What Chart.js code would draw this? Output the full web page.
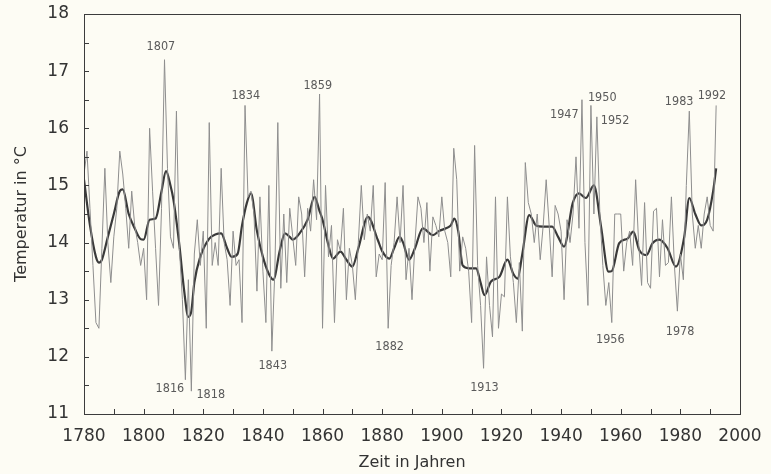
<!DOCTYPE html>
<html lang="de">
<head>
<meta charset="UTF-8">
<title>Temperatur</title>
<script src="https://cdn.jsdelivr.net/npm/chart.js"></script>
<style>
  body { margin: 0; background: #fdfcf4; }
  #box { width: 771px; height: 474px; }
</style>
</head>
<body>
<div id="box"><canvas id="grafico"></canvas></div>
<script>
// Jahresmittel ab 1780
var startJahr = 1780;
var temperaturen = [
  15.2, 15.6, 14.6, 13.6, 12.6, 12.5, 13.9, 15.3, 14.0, 13.3,
  14.1, 14.6, 15.6, 15.2, 14.6, 13.9, 14.9, 14.3, 14.0, 13.6,
  13.9, 13.0, 16.0, 14.9, 13.9, 12.9, 14.6, 17.2, 15.3, 14.1,
  13.9, 16.3, 13.9, 13.0, 11.6, 13.35, 11.4, 13.8, 14.4, 13.6,
  14.2, 12.5, 16.1, 13.6, 14.0, 13.6, 15.3, 14.0, 13.7, 12.9,
  14.2, 13.6, 13.7, 12.6, 16.4, 14.8, 14.9, 14.5, 13.15, 14.8,
  13.5, 12.6, 15.0, 12.1, 13.5, 16.1, 13.2, 14.5, 13.3, 14.6,
  14.1, 13.6, 14.8, 14.5, 13.4, 14.6, 14.2, 15.1, 14.4, 16.6,
  12.5, 15.0, 13.75, 14.3, 12.6, 14.05, 13.85, 14.6, 13.0, 13.9,
  13.6, 13.0, 14.0, 15.0, 14.05, 14.5, 14.2, 15.0, 13.4, 13.8,
  13.7, 15.05, 12.5, 13.6, 14.0, 14.8, 14.0, 15.0, 13.35, 13.9,
  13.0, 14.0, 14.8, 14.6, 14.0, 14.7, 13.5, 14.45, 14.3, 14.1,
  14.8, 14.2, 14.0, 13.4, 15.65, 15.1, 13.5, 14.1, 13.9, 13.5,
  12.6, 15.7, 13.6, 12.9, 11.8, 13.75, 12.9, 12.35, 14.8, 12.5,
  13.1, 13.05, 14.8, 13.75, 13.3, 12.6, 13.65, 12.45, 15.4, 14.7,
  14.5, 14.0, 14.5, 13.7, 14.3, 15.1, 14.3, 13.4, 14.65, 14.5,
  14.2, 13.0, 14.4, 14.0, 14.5, 15.5, 14.25, 16.5, 14.0, 12.9,
  16.4, 14.5, 16.2, 14.5, 13.6, 12.9, 13.3, 12.6, 14.5, 14.5,
  14.5, 13.5, 14.0, 14.2, 13.6, 15.1, 14.0, 13.25, 14.7, 13.3,
  13.2, 14.55, 14.6, 13.4, 14.4, 13.6, 13.65, 14.8, 13.6, 12.8,
  13.8, 13.35, 15.0, 16.3, 14.5, 13.9, 14.3, 13.9, 14.5, 14.8,
  14.3, 14.2, 16.4
];

// geglaettete Kurve
var glattJahre = [
  1780, 1782, 1784, 1785, 1786, 1788, 1790, 1792, 1793, 1795, 1797, 1799, 1800,
  1802, 1804, 1806, 1807.5, 1809, 1810, 1812, 1813.5, 1815, 1816, 1817, 1819,
  1822, 1824, 1826, 1828, 1829.5, 1831.5, 1833, 1834.6, 1836, 1838, 1840, 1842,
  1843.5, 1845.7, 1847.4, 1849, 1850, 1852.3, 1855, 1857.3, 1859, 1860, 1862,
  1863.5, 1866, 1868, 1870, 1872, 1875.2, 1878.5, 1880, 1882.4, 1884, 1885.8,
  1887, 1889, 1891, 1893.6, 1897, 1899, 1901.4, 1903, 1904.2, 1905.5, 1907,
  1909, 1911.5, 1913, 1914.3, 1916.5, 1919.3, 1922, 1924, 1925.4, 1927, 1929.3,
  1931.6, 1934, 1937, 1939, 1941, 1943.9, 1946, 1948.3, 1951, 1953.4, 1955.9,
  1957, 1959.5, 1962.3, 1964.2, 1966.2, 1968.6, 1970.7, 1972.9, 1975.7, 1978.5,
  1981.3, 1983, 1985, 1987, 1989, 1991, 1992
];
var glattWerte = [
  15.1, 14.3, 13.75, 13.65, 13.7, 14.1, 14.5, 14.9, 14.93, 14.5, 14.25, 14.06, 14.05,
  14.4, 14.42, 14.9, 15.25, 15.0, 14.75, 13.95, 13.2, 12.7, 12.8, 13.3, 13.75,
  14.07, 14.14, 14.16, 13.9, 13.75, 13.8, 14.3, 14.69, 14.86, 14.2, 13.75, 13.45,
  13.35, 13.87, 14.16, 14.1, 14.05, 14.16, 14.4, 14.8, 14.55, 14.4, 13.95,
  13.72, 13.84, 13.7, 13.58, 13.9, 14.45, 14.05, 13.85, 13.72, 13.9, 14.1,
  14.0, 13.7, 13.9, 14.25, 14.13, 14.2, 14.25, 14.3, 14.42, 14.2, 13.6,
  13.55, 13.55, 13.3, 13.08, 13.32, 13.4, 13.7, 13.45, 13.37, 13.8, 14.48,
  14.3, 14.28, 14.28, 14.1, 13.93, 14.69, 14.86, 14.78, 15.0, 14.28, 13.49,
  13.5, 13.99, 14.07, 14.19, 13.87, 13.78, 13.99, 14.05, 13.9, 13.58,
  14.1, 14.78, 14.5, 14.3, 14.4, 14.9, 15.3
];

var jahresMarken = ['1807', '1816', '1818', '1834', '1843', '1859', '1882', '1913',
  '1947', '1950', '1952', '1956', '1978', '1983', '1992'];

// Lage der Jahresmarken in Achsenwerten
var markenLage = [
  [1805.8, 17.42], [1808.8, 11.44], [1822.5, 11.33], [1834.25, 16.57], [1843.3, 11.84],
  [1858.4, 16.74], [1882.5, 12.17], [1914.3, 11.46], [1941.1, 16.23], [1953.8, 16.53],
  [1958.1, 16.13], [1956.5, 12.30], [1979.9, 12.44], [1979.6, 16.46], [1990.6, 16.57]
];

var jahresPunkte = temperaturen.map(function (t, i) { return { x: startJahr + i, y: t }; });
var glattPunkte = glattJahre.map(function (j, i) { return { x: j, y: glattWerte[i] }; });

var rahmen = {
  id: 'rahmen',
  afterDraw: function (chart) {
    var ctx = chart.ctx, a = chart.chartArea;
    var sx = chart.scales.x, sy = chart.scales.y;
    ctx.save();
    ctx.strokeStyle = '#3c3c3c';
    ctx.lineWidth = 1;
    ctx.strokeRect(Math.round(a.left) + 0.5, Math.round(a.top) + 0.5,
      Math.round(a.right - a.left), Math.round(a.bottom - a.top));
    ctx.beginPath();
    sx.ticks.forEach(function (t) {
      var px = Math.round(sx.getPixelForValue(t.value)) + 0.5;
      ctx.moveTo(px, a.bottom);
      ctx.lineTo(px, a.bottom - 5);
    });
    sy.ticks.forEach(function (t) {
      var py = Math.round(sy.getPixelForValue(t.value)) + 0.5;
      ctx.moveTo(a.left, py);
      ctx.lineTo(a.left + 5, py);
    });
    ctx.stroke();

    ctx.fillStyle = '#5a5a5a';
    ctx.font = '12.5px "DejaVu Sans Condensed", "Liberation Sans Narrow", sans-serif';
    ctx.textAlign = 'center';
    ctx.textBaseline = 'middle';
    jahresMarken.forEach(function (txt, i) {
      ctx.fillText(txt, sx.getPixelForValue(markenLage[i][0]), sy.getPixelForValue(markenLage[i][1]));
    });
    ctx.restore();
  }
};

new Chart(document.getElementById('grafico'), {
  type: 'line',
  data: {
    datasets: [{
      label: 'Jahreswerte',
      data: jahresPunkte,
      borderColor: '#8e8e8e',
      borderWidth: 1,
      pointRadius: 0,
      tension: 0
    }, {
      label: 'geglaettet',
      data: glattPunkte,
      borderColor: '#3a3a3a',
      borderWidth: 2.2,
      pointRadius: 0,
      cubicInterpolationMode: 'monotone'
    }]
  },
  plugins: [rahmen],
  options: {
    responsive: true,
    maintainAspectRatio: false,
    animation: false,
    layout: { padding: { left: 0, right: 31, top: 14, bottom: 0 } },
    plugins: { legend: { display: false }, tooltip: { enabled: false } },
    scales: {
      x: {
        type: 'linear',
        min: 1780,
        max: 2000,
        afterFit: function (s) { s.height = 60; },
        grid: { display: true, drawOnChartArea: false, drawTicks: true, tickLength: 12, tickColor: 'rgba(0,0,0,0)' },
        border: { display: false },
        ticks: {
          stepSize: 10,
          autoSkip: false,
          maxRotation: 0,
          padding: 0,
          color: '#333',
          font: { family: 'DejaVu Sans', size: 17 },
          callback: function (v) { return v % 20 === 0 ? String(v) : ''; }
        },
        title: {
          display: true,
          text: 'Zeit in Jahren',
          color: '#333',
          padding: { top: 0, bottom: 2 },
          font: { family: 'DejaVu Sans', size: 16 }
        }
      },
      y: {
        min: 11,
        max: 18,
        afterFit: function (s) { s.width = 84; },
        grid: { display: true, drawOnChartArea: false, drawTicks: true, tickLength: 15, tickColor: 'rgba(0,0,0,0)' },
        border: { display: false },
        ticks: {
          stepSize: 0.5,
          autoSkip: false,
          padding: 0,
          color: '#333',
          font: { family: 'DejaVu Sans', size: 17 },
          callback: function (v) { return Number.isInteger(v) ? String(v) : ''; }
        },
        title: {
          display: true,
          text: 'Temperatur in °C',
          color: '#333',
          padding: { top: 12, bottom: 0 },
          font: { family: 'DejaVu Sans', size: 16 }
        }
      }
    }
  }
});
</script>
</body>
</html>
